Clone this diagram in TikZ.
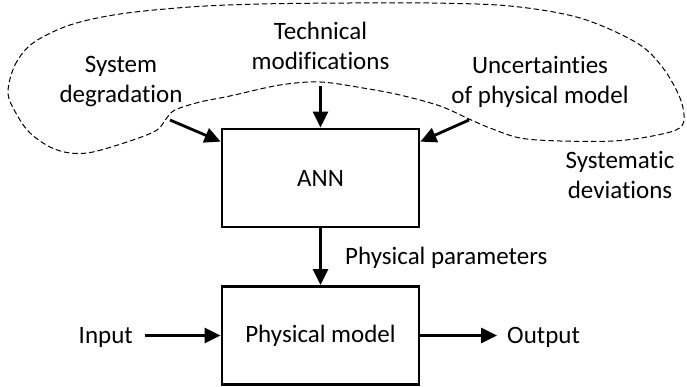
\documentclass[tikz,border=0pt]{standalone}
\usepackage{fontspec}
\setmainfont{Carlito}[RawFeature=-liga]
\usetikzlibrary{arrows.meta}
\begin{document}
\begin{tikzpicture}[x=1pt,y=-1pt,
  every node/.style={font=\fontsize{25}{30}\selectfont},
  block/.style={draw, line width=2.8pt, minimum width=197pt, minimum height=98pt, inner sep=0pt},
  lbl/.style={align=center, inner sep=0pt},
  flow/.style={line width=2.8pt, -{Triangle[length=16pt,width=15pt]}},
  cloud/.style={line width=1pt, dash pattern=on 5.5pt off 3pt}]
\useasboundingbox (0,0) rectangle (687,387);

% dashed region of systematic deviations
\draw[cloud] plot[smooth cycle, tension=0.55] coordinates {
  (8,93) (15,65) (33,43) (70,25) (120,14) (190,7) (260,4) (350,3) (430,3)
  (510,6) (580,18) (637,43) (663,68) (680,98) (684,120) (676,130) (647,137)
  (613,141) (560,141) (520,138) (490,128) (469,119) (440,106) (400,95)
  (363,88) (320,82) (280,85) (230,96) (200,102) (175,110) (166,119)
  (157,130) (133,140) (93,152) (70,153) (50,147) (30,133) (17,115)};

% blocks
\node[block] (ann) at (320.5,178) {ANN};
\node[block] (pm) at (320.5,335.5) {Physical model};

% influence labels
\node[lbl] (deg) at (121,82) {System\\degradation};
\node[lbl] (tech) at (320.5,46) {Technical\\modifications};
\node[lbl] (unc) at (540,82) {Uncertainties\\of physical model};
\node[lbl] (sys) at (620,175) {Systematic\\deviations};
\node[lbl, anchor=base west] (par) at (345,264) {Physical parameters};
\node[lbl, anchor=base east] (inp) at (133,343) {Input};
\node[lbl, anchor=base west] (outp) at (507,343) {Output};

% arrow origins on the dashed boundary
\coordinate (c1) at (170,120);
\coordinate (c2) at (320.5,86);
\coordinate (c3) at (469,120);

% connectors
\draw[flow] (c1) -- (ann.160);
\draw[flow] (c2) -- (ann.north);
\draw[flow] (c3) -- (ann.20);
\draw[flow] (ann.south) -- (pm.north);
\draw[flow] ([xshift=12pt]inp.east |- pm.west) -- (pm.west);
\draw[flow] (pm.east) -- ([xshift=-10pt]outp.west |- pm.east);
\end{tikzpicture}
\end{document}
